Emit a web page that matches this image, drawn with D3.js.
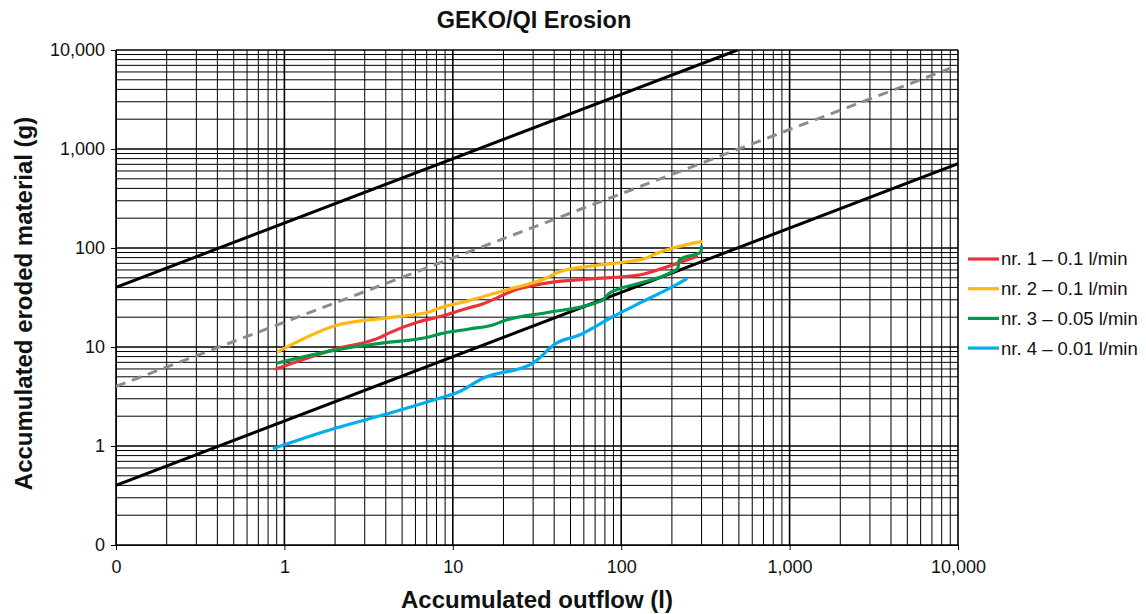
<!DOCTYPE html>
<html>
<head>
<meta charset="utf-8">
<script src="https://cdn.jsdelivr.net/npm/d3@7"></script>
<style>
  html, body { margin: 0; padding: 0; background: #fff; }
  svg { display: block; font-family: "Liberation Sans", Arial, sans-serif; }
</style>
</head>
<body>
<svg id="chart" width="1146" height="614"></svg>
<script>
// ---- data ----
const title = "GEKO/QI Erosion";
const xTitle = "Accumulated outflow (l)";
const yTitle = "Accumulated eroded material (g)";

const tickValues = [0.1, 1, 10, 100, 1000, 10000];
const xTickLabels = ["0", "1", "10", "100", "1,000", "10,000"];
const yTickLabels = ["0", "1", "10", "100", "1,000", "10,000"];

const seriesNames = ["nr. 1 \u2013 0.1 l/min", "nr. 2 \u2013 0.1 l/min", "nr. 3 \u2013 0.05 l/min", "nr. 4 \u2013 0.01 l/min"];
const seriesColors = ["#ed3237", "#fdb913", "#00994a", "#00aeef"];

const s1x = [0.89, 2.0, 3.7, 4.2, 6.3, 8.3, 12.5, 14.4, 25, 37.5, 65, 128, 200, 280];
const s1y = [6.0, 9.5, 12.5, 13.9, 18.0, 20.2, 24.9, 26.6, 39, 44.7, 48.6, 53.4, 67, 82];

const s2x = [0.92, 2.0, 4.2, 7.3, 8.3, 12.5, 20.7, 35.8, 43, 74, 140, 154, 298];
const s2y = [9.0, 16.4, 19.8, 22.7, 24.6, 29.4, 37.7, 49.4, 57.6, 67.3, 78.7, 85, 116];

const s3x = [0.91, 2.0, 3.7, 7.3, 8.3, 12.5, 17.3, 20.7, 35.8, 71, 77.6, 85, 128, 202, 217, 221, 298, 300];
const s3y = [6.9, 9.3, 10.9, 12.7, 13.5, 15.2, 16.7, 18.7, 22.2, 28.0, 29.8, 34.9, 44, 57.6, 62.4, 75.7, 91.8, 103];

const s4x = [0.87, 2.0, 4.2, 8.3, 10.9, 15.1, 29.8, 41, 56.5, 89, 134, 202, 243];
const s4y = [0.95, 1.51, 2.14, 3.03, 3.53, 4.83, 6.84, 10.9, 13.2, 20.2, 28.7, 40.7, 48.6];

// reference lines (endpoints)
const upperLineX = [0.1, 490];
const upperLineY = [40, 10000];
const lowerLineX = [0.1, 10000];
const lowerLineY = [0.4, 710];
const dashedLineX = [0.1, 10000];
const dashedLineY = [4, 7000];

// ---- chart ----
const svg = d3.select("#chart");
const pLeft = 116, pRight = 958, pTop = 50, pBottom = 545;

const x = d3.scaleLog().domain([0.1, 10000]).range([pLeft, pRight]);
const y = d3.scaleLog().domain([0.1, 10000]).range([pBottom, pTop]);

// grid values: 1..9 per decade
const gridVals = [];
for (let e = -1; e < 4; e++) {
  for (let m = 1; m <= 9; m++) gridVals.push(m * Math.pow(10, e));
}
gridVals.push(10000);
const isMajor = v => Math.abs(Math.log10(v) - Math.round(Math.log10(v))) < 1e-9;

const grid = svg.append("g");
grid.selectAll("line.v").data(gridVals).join("line").attr("class", "v")
  .attr("x1", d => x(d)).attr("x2", d => x(d))
  .attr("y1", pTop).attr("y2", pBottom)
  .attr("stroke", "#000").attr("stroke-width", d => isMajor(d) ? 1.6 : 1);
grid.selectAll("line.h").data(gridVals).join("line").attr("class", "h")
  .attr("y1", d => y(d)).attr("y2", d => y(d))
  .attr("x1", pLeft).attr("x2", pRight)
  .attr("stroke", "#000").attr("stroke-width", d => isMajor(d) ? 1.6 : 1);

// axes
const xAxis = d3.axisBottom(x).tickValues(tickValues)
  .tickFormat((d, i) => xTickLabels[i]).tickSize(5).tickSizeOuter(0).tickPadding(10);
const yAxis = d3.axisLeft(y).tickValues(tickValues)
  .tickFormat((d, i) => yTickLabels[i]).tickSize(5).tickSizeOuter(0).tickPadding(6);

const gx = svg.append("g").attr("transform", `translate(0,${pBottom})`).call(xAxis);
const gy = svg.append("g").attr("transform", `translate(${pLeft},0)`).call(yAxis);
[gx, gy].forEach(g => {
  g.select(".domain").attr("stroke", "#000").attr("stroke-width", 1);
  g.selectAll(".tick line").attr("stroke", "#000");
  g.selectAll("text").attr("font-size", 18).attr("fill", "#111")
    .attr("font-family", "'Liberation Sans', Arial, sans-serif");
});

// reference lines
const line = d3.line().x(d => x(d[0])).y(d => y(d[1]));
svg.append("clipPath").attr("id", "clip").append("rect")
  .attr("x", pLeft).attr("y", pTop).attr("width", pRight - pLeft).attr("height", pBottom - pTop);

const refs = [
  { xs: upperLineX, ys: upperLineY, color: "#000", dash: null, w: 3 },
  { xs: lowerLineX, ys: lowerLineY, color: "#000", dash: null, w: 3 },
  { xs: dashedLineX, ys: dashedLineY, color: "#8c8c8c", dash: "10,7", w: 3 }
];
svg.append("g").attr("clip-path", "url(#clip)")
  .selectAll("path").data(refs).join("path")
  .attr("d", r => line(r.xs.map((v, i) => [v, r.ys[i]])))
  .attr("fill", "none").attr("stroke", r => r.color)
  .attr("stroke-width", r => r.w)
  .attr("stroke-dasharray", r => r.dash);

// series
const seriesX = [s1x, s2x, s3x, s4x];
const seriesY = [s1y, s2y, s3y, s4y];
const sLine = d3.line().x(d => x(d[0])).y(d => y(d[1])).curve(d3.curveMonotoneX);
svg.append("g").selectAll("path").data(seriesX).join("path")
  .attr("d", (xs, i) => sLine(xs.map((v, j) => [v, seriesY[i][j]])))
  .attr("fill", "none")
  .attr("stroke", (d, i) => seriesColors[i])
  .attr("stroke-width", 3.2)
  .attr("stroke-linejoin", "round")
  .attr("stroke-linecap", "round");

// legend
const legendY0 = 259, legendStep = 29.7;
const lg = svg.append("g");
seriesNames.forEach((name, i) => {
  const yy = legendY0 + i * legendStep;
  lg.append("line").attr("x1", 968).attr("x2", 999).attr("y1", yy).attr("y2", yy)
    .attr("stroke", seriesColors[i]).attr("stroke-width", 3.2);
  lg.append("text").attr("x", 1001).attr("y", yy).attr("dy", "0.35em")
    .attr("font-size", 18.5).attr("fill", "#111").text(name);
});

// titles
svg.append("text").attr("x", (pLeft + pRight) / 2 - 3).attr("y", 28)
  .attr("text-anchor", "middle").attr("font-weight", "bold").attr("font-size", 23.5)
  .attr("fill", "#111").text(title);
svg.append("text").attr("x", (pLeft + pRight) / 2).attr("y", 608)
  .attr("text-anchor", "middle").attr("font-weight", "bold").attr("font-size", 24)
  .attr("fill", "#111").text(xTitle);
svg.append("text").attr("transform", `translate(32,${(120 + 487) / 2}) rotate(-90)`)
  .attr("text-anchor", "middle").attr("font-weight", "bold").attr("font-size", 24)
  .attr("fill", "#111").text(yTitle);
</script>
</body>
</html>
